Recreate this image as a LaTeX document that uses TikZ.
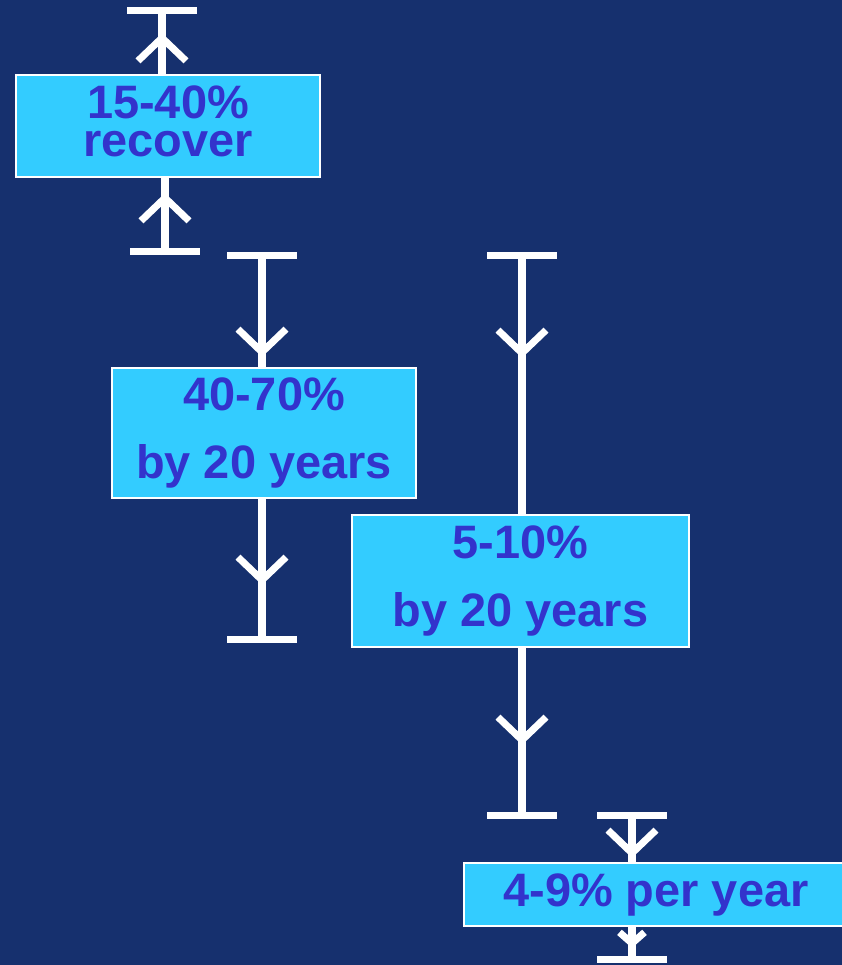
\documentclass[tikz,border=0pt]{standalone}
\usepackage{fontspec}
\setmainfont{Liberation Sans}
\usepackage{xcolor}
\usepackage{tikz}
\usetikzlibrary{
  positioning,
  calc,
  arrows.meta
}

\definecolor{bgblue}{RGB}{22,48,110}
\definecolor{boxcyan}{HTML}{33CCFF}
\definecolor{textblue}{HTML}{3333CC}

\tikzset{
  box/.style={draw=white, line width=0.8pt, fill=boxcyan, text=textblue,
    font=\bfseries\fontsize{26.7}{38.5}\selectfont, align=center, inner sep=0pt},
  stem/.style={draw=white, line width=4pt},
  chev/.style={arrows={-{Straight Barb[length=0.46cm,width=0.96cm]}}},
  smallchev/.style={arrows={-{Straight Barb[length=0.22cm,width=0.5cm]}}},
  barend/.style={arrows={-{Bar[width=1.4cm]}}}
}

\begin{document}
\begin{tikzpicture}[x=0.02cm,y=-0.02cm]
  % 背景
  \fill[bgblue] (0,0) rectangle (842,965);
  \useasboundingbox (0,0) rectangle (842,965);

  % 割合の箱
  \node[box, minimum width=6.08cm, minimum height=2.04cm, text depth=0.2cm,
    font=\bfseries\fontsize{26.7}{21.5}\selectfont] (recover) at (168,126) {15-40\%\\recover};
  \node[box, minimum width=6.08cm, minimum height=2.6cm] (byA) at (264,433) {40-70\%\\by 20 years};
  \node[box, minimum width=6.74cm, minimum height=2.64cm] (byB) at (520.5,581) {5-10\%\\by 20 years};
  \node[box, minimum width=7.68cm, minimum height=1.26cm] (peryear) at (656,894.5) {4-9\% per year};

  % 棒の端と矢印の先
  \coordinate (rec-top) at (162,7);
  \coordinate (rec-up) at (162,33);
  \coordinate (rec-bot) at (165,255);
  \coordinate (rec-lo) at (165,193);
  \coordinate (a-top) at (262,252);
  \coordinate (a-up) at (262,357);
  \coordinate (a-lo) at (262,585);
  \coordinate (a-bot) at (262,643);
  \coordinate (b-top) at (522,252);
  \coordinate (b-up) at (522,358);
  \coordinate (b-lo) at (522,745);
  \coordinate (b-bot) at (522,819);
  \coordinate (y-top) at (632,812);
  \coordinate (y-up) at (632,858);
  \coordinate (y-lo) at (632,948);
  \coordinate (y-bot) at (632,963);

  % 15-40%
  \draw[stem, barend] (rec-top |- recover.north) -- (rec-top);
  \draw[stem, chev] (rec-top |- recover.north) -- (rec-up);
  \draw[stem, barend] (rec-bot |- recover.south) -- (rec-bot);
  \draw[stem, chev] (rec-bot) -- (rec-lo);

  % 40-70%
  \draw[stem, barend] (a-top |- byA.north) -- (a-top);
  \draw[stem, chev] (a-top) -- (a-up);
  \draw[stem, barend] (a-bot |- byA.south) -- (a-bot);
  \draw[stem, chev] (a-lo |- byA.south) -- (a-lo);

  % 5-10%
  \draw[stem, barend] (b-top |- byB.north) -- (b-top);
  \draw[stem, chev] (b-top) -- (b-up);
  \draw[stem, barend] (b-bot |- byB.south) -- (b-bot);
  \draw[stem, chev] (b-lo |- byB.south) -- (b-lo);

  % 4-9% per year
  \draw[stem, barend] (y-top |- peryear.north) -- (y-top);
  \draw[stem, chev] (y-top) -- (y-up);
  \draw[stem, barend] (y-bot |- peryear.south) -- (y-bot);
  \draw[stem, smallchev] (y-lo |- peryear.south) -- (y-lo);
\end{tikzpicture}
\end{document}
